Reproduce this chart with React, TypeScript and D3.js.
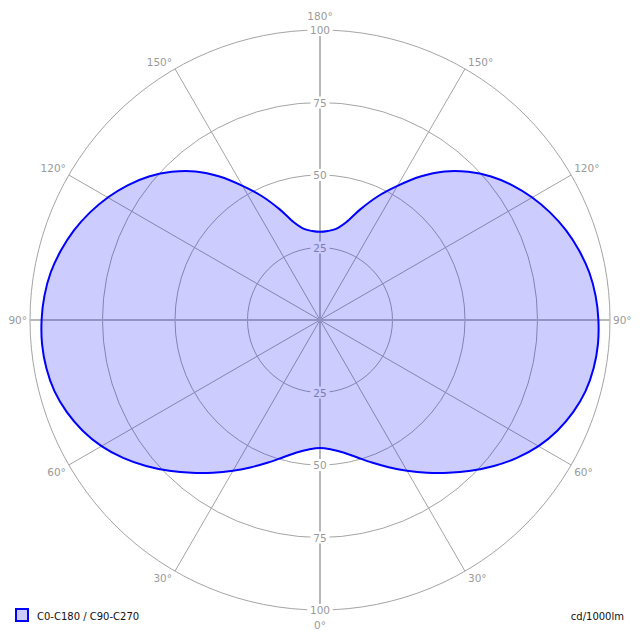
import * as d3 from 'd3'

// gamma angles (deg, 0 = straight down) and intensity in cd/1000lm
const gammaAngles = [
  0, 5, 10, 15, 20, 25, 30, 35, 40, 45, 50, 55, 60, 65, 70, 75, 80, 85, 90,
  95, 100, 105, 110, 115, 120, 125, 130, 135, 140, 145, 150, 155, 160, 165, 170, 175, 180,
]
const intensity = [
  44.1, 44.8, 46.4, 49.0, 52.3, 56.0, 60.0, 64.3, 68.8, 73.5, 78.3, 82.9, 87.0, 90.3, 92.9, 94.8, 95.8, 96.2, 96.0,
  95.4, 94.3, 92.5, 90.3, 87.6, 84.5, 81.0, 77.0, 72.3, 66.9, 60.4, 53.4, 47.0, 40.6, 34.9, 31.9, 30.8, 30.4,
]
const ringTicks = [25, 50, 75, 100]
const spokeAngles = [0, 30, 60, 90, 120, 150, 180]
const seriesLabel = 'C0-C180 / C90-C270'
const unitLabel = 'cd/1000lm'

const W = 640
const H = 640
const cx = 320
const cy = 320
const font = 'DejaVu Sans, Verdana, sans-serif'
const gridColor = '#a4a4a4'
const labelColor = '#9a9a9a'

export default function App() {
  const r = d3.scaleLinear().domain([0, 100]).range([0, 290])
  const rad = (deg: number) => (deg * Math.PI) / 180

  // right half (C0) goes from bottom up, left half (C180) mirrors back down
  const pts: [number, number][] = []
  gammaAngles.forEach((g, i) => pts.push([Math.PI - rad(g), r(intensity[i])]))
  for (let i = gammaAngles.length - 2; i > 0; i--) {
    pts.push([Math.PI + rad(gammaAngles[i]), r(intensity[i])])
  }
  const line = d3
    .lineRadial<[number, number]>()
    .angle((d) => d[0])
    .radius((d) => d[1])
    .curve(d3.curveCatmullRomClosed.alpha(0.5))
  const path = line(pts) || ''

  const R = r(100)
  const spokeEnd = (g: number, side: number) => [cx + side * R * Math.sin(rad(g)), cy + R * Math.cos(rad(g))]

  const angleLabels: { x: number; y: number; text: string; anchor: string }[] = []
  spokeAngles.forEach((g) => {
    if (g === 0 || g === 180) return
    ;[-1, 1].forEach((side) => {
      const [x, y] = spokeEnd(g, side)
      const dy = g === 90 ? 0 : g < 90 ? 7 : -7
      angleLabels.push({ x: x + side * 3, y: y + dy, text: `${g}°`, anchor: side < 0 ? 'end' : 'start' })
    })
  })
  angleLabels.push({ x: cx, y: cy - R - 14, text: '180°', anchor: 'middle' })
  angleLabels.push({ x: cx, y: cy + R + 15, text: '0°', anchor: 'middle' })

  const ringLabels: { y: number; text: string }[] = []
  ringTicks.forEach((t) => {
    ringLabels.push({ y: cy - r(t), text: String(t) })
    ringLabels.push({ y: cy + r(t), text: String(t) })
  })

  return (
    <svg width={W} height={H} style={{ position: 'absolute', left: 0, top: 0, background: '#fff' }}>
      <g>
        {ringTicks.map((t) => (
          <circle key={t} cx={cx} cy={cy} r={r(t)} fill="none" stroke={gridColor} strokeWidth={1} />
        ))}
        {spokeAngles.map((g) =>
          [-1, 1].map((side) => {
            const [x, y] = spokeEnd(g, side)
            const main = g === 0 || g === 90 || g === 180
            return (
              <line
                key={`${g}-${side}`}
                x1={cx}
                y1={cy}
                x2={x}
                y2={y}
                stroke={main ? '#b8b8b8' : gridColor}
                strokeWidth={main ? 2 : 1}
              />
            )
          })
        )}
      </g>
      <g fontFamily={font} fontSize={10.5} fill={labelColor}>
        {ringLabels.map((l, i) => (
          <g key={i}>
            <rect x={cx - (l.text.length * 6.5 + 6) / 2} y={l.y - 6} width={l.text.length * 6.5 + 6} height={12} fill="#fff" />
            <text x={cx} y={l.y} textAnchor="middle" dominantBaseline="central">
              {l.text}
            </text>
          </g>
        ))}
      </g>
      <g transform={`translate(${cx},${cy})`}>
        <path d={path} fill="rgba(0,0,255,0.2)" stroke="none" />
        <path d={path} fill="none" stroke="#0000ff" strokeWidth={2} />
      </g>
      <g fontFamily={font} fontSize={10.5} fill={labelColor}>
        {angleLabels.map((l, i) => (
          <text key={i} x={l.x} y={l.y} textAnchor={l.anchor} dominantBaseline="central">
            {l.text}
          </text>
        ))}
      </g>
      <g fontFamily={font} fontSize={10} fill="#111">
        <rect x={16} y={609} width={12} height={12} fill="#ccccff" stroke="#0000ff" strokeWidth={2} />
        <text x={37} y={620}>
          {seriesLabel}
        </text>
        <text x={624} y={620} textAnchor="end">
          {unitLabel}
        </text>
      </g>
    </svg>
  )
}
